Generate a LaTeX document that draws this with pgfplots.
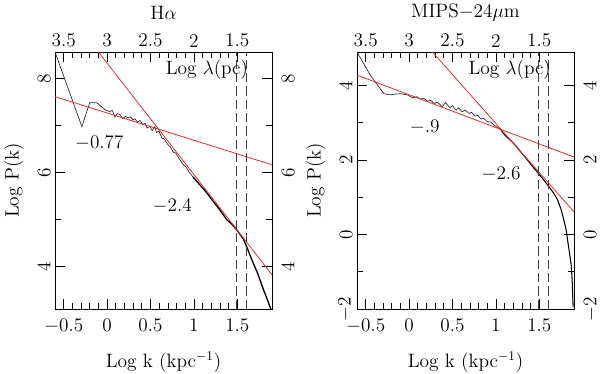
\documentclass[border=0pt]{standalone}
\usepackage{pgfplots}
\pgfplotsset{compat=1.18}
\definecolor{fitred}{RGB}{228,45,45}
\definecolor{dashgray}{RGB}{60,60,60}
\begin{document}
\begin{tikzpicture}
\path[use as bounding box] (0pt,0pt) rectangle (450pt,280.5pt);
\pgfplotsset{
 every axis title/.style={at={(axis description cs:0.5,1.152)}, anchor=center},
 base/.style={
  scale only axis, width=162.75pt, height=192.75pt,
  xmin=-0.6, xmax=1.9,
  font=\fontsize{14.5}{16}\selectfont,
  axis line style={line width=0.6pt},
  every tick/.style={black, line width=0.5pt},
  major tick length=7.5pt, minor tick length=4.5pt,
  xtick={-0.5,0,0.5,1,1.5},
  minor x tick num=4,
  minor y tick num=1,
  tick align=inside,
 },
 mainax/.style={base, anchor=south west,
  tick pos=both, xticklabel pos=lower, yticklabel pos=left,
  yticklabel style={rotate=90, anchor=south},
  xticklabel shift=4pt,
  xlabel={Log k (kpc$^{-1}$)},
  xlabel style={at={(axis description cs:0.5,-0.206)}, anchor=center},
  ylabel={Log P(k)},
  ylabel style={at={(axis description cs:-0.19,0.5)}, anchor=center},
 },
 overax/.style={base, anchor=south west,
  xticklabel pos=upper, yticklabel pos=right,
  xticklabels={3.5,3,2.5,2,1.5},
  yticklabel style={rotate=90, anchor=north},
  yticklabel shift=4pt,
  axis line style={draw=none}, tick style={draw=none},
  minor x tick num=0, minor y tick num=0,
 },
 fit/.style={fitred, line width=0.6pt},
 vd/.style={dashgray, line width=0.5pt, dash pattern=on 7pt off 3pt},
}
% ---------------- Left panel: H alpha ----------------
\begin{axis}[mainax, at={(41.25pt,48.75pt)},
  ymin=3.1, ymax=8.57, ytick={4,6,8}, title={H$\alpha$}]
\addplot[black!85, line width=0.5pt] coordinates {
(-0.6,8.57) (-0.29,6.98) (-0.20,7.49) (-0.12,7.49) (-0.02,7.34) (0.03,7.30)
(0.06,7.33) (0.09,7.19) (0.12,7.26) (0.15,7.23) (0.18,7.15) (0.21,7.20)
(0.24,7.17) (0.27,7.19) (0.30,7.12) (0.32,7.15) (0.35,7.08) (0.38,7.11)
(0.41,7.03) (0.44,7.05) (0.46,6.95) (0.49,6.99) (0.52,6.90) (0.55,6.98)
(0.57,6.86) (0.60,6.88) (0.63,6.74) (0.66,6.72) (0.70,6.60) (0.73,6.55)
(0.76,6.44) (0.79,6.42) (0.83,6.30) (0.87,6.19) (0.91,6.12) (0.95,6.00) (0.99,5.91)};
\addplot[black, line width=1pt] coordinates {
(0.99,5.91) (1.07,5.74) (1.15,5.57) (1.21,5.42) (1.27,5.28) (1.33,5.13)
(1.38,5.00) (1.44,4.90) (1.50,4.77) (1.57,4.59) (1.61,4.42) (1.65,4.23)
(1.69,4.05) (1.73,3.88) (1.77,3.68) (1.80,3.52) (1.84,3.33) (1.88,3.13) (1.9,3.05)};
\addplot[fit] coordinates {(-0.6,7.62) (1.9,6.17)};
\addplot[fit] coordinates {(-0.10,8.57) (1.9,3.83)};
\addplot[vd] coordinates {(1.49,3.1) (1.49,8.57)};
\addplot[vd] coordinates {(1.60,3.1) (1.60,8.57)};
\node at (axis cs:-0.09,6.63) {$-0.77$};
\node at (axis cs:0.75,5.30) {$-2.4$};
\node at (axis cs:1.15,8.19) {Log $\lambda$(pc)};
\end{axis}
\begin{axis}[overax, at={(41.25pt,48.75pt)},
  ymin=3.1, ymax=8.57, ytick={4,6,8}]
\end{axis}
% ---------------- Right panel: MIPS 24 micron ----------------
\begin{axis}[mainax, at={(267.75pt,48.75pt)},
  ymin=-2, ymax=4.9, ytick={-2,0,2,4}, title={MIPS$-$24$\mu$m}]
\addplot[black!85, line width=0.5pt] coordinates {
(-0.6,4.9) (-0.45,4.29) (-0.29,3.78) (-0.22,3.75) (-0.16,3.77) (-0.10,3.78)
(-0.02,3.75) (0.04,3.67) (0.09,3.70) (0.13,3.63) (0.17,3.66) (0.21,3.58)
(0.25,3.60) (0.29,3.52) (0.33,3.55) (0.38,3.43) (0.42,3.54) (0.47,3.40)
(0.50,3.46) (0.54,3.34) (0.57,3.40) (0.61,3.30) (0.65,3.34) (0.69,3.25)
(0.72,3.28) (0.76,3.18) (0.79,3.20) (0.83,3.10) (0.86,3.12) (0.90,3.03)
(0.94,3.02) (0.98,2.93) (1.02,2.88) (1.06,2.80)};
\addplot[black, line width=0.8pt] coordinates {
(1.06,2.80) (1.10,2.68) (1.14,2.59) (1.21,2.43) (1.29,2.21) (1.37,1.98)
(1.44,1.78) (1.50,1.61) (1.56,1.44) (1.61,1.29) (1.66,1.13) (1.71,0.94)
(1.75,0.68) (1.78,0.42) (1.81,0.12) (1.83,-0.21) (1.85,-0.52) (1.87,-0.86)
(1.88,-1.3) (1.89,-1.95)};
\addplot[fit] coordinates {(-0.6,4.28) (1.9,2.08)};
\addplot[fit] coordinates {(0.27,4.9) (1.9,0.61)};
\addplot[vd] coordinates {(1.49,-2) (1.49,4.9)};
\addplot[vd] coordinates {(1.61,-2) (1.61,4.9)};
\node at (axis cs:0.18,2.89) {$-.9$};
\node at (axis cs:1.06,1.61) {$-2.6$};
\node at (axis cs:1.16,4.43) {Log $\lambda$(pc)};
\end{axis}
\begin{axis}[overax, at={(267.75pt,48.75pt)},
  ymin=-2, ymax=4.9, ytick={-2,0,2,4}]
\end{axis}
\end{tikzpicture}
\end{document}
